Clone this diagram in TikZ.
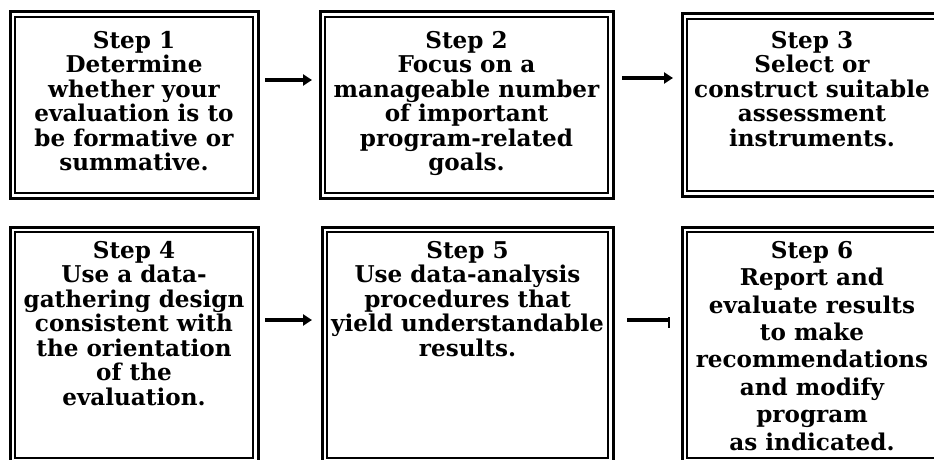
\documentclass[tikz,border=0pt]{standalone}
\usepackage{fontspec}
\setmainfont{DejaVu Serif}
\usetikzlibrary{arrows.meta,calc}

\tikzset{
  stepbox/.style={draw, line width=3pt, inner sep=0pt, outer sep=0pt,
    anchor=north west, minimum width=#1},
  innerframe/.style={line width=1.4pt},
  steptext/.style={anchor=north, align=center, inner sep=0pt,
    font=\fontsize{23.1}{24.5}\selectfont\bfseries},
  loosetext/.style={steptext, font=\fontsize{23.1}{27.4}\selectfont\bfseries},
  flowarrow/.style={line width=3.4pt, -{Triangle[length=9pt,width=11pt]}},
  flowline/.style={line width=3.4pt},
}

\begin{document}
\begin{tikzpicture}[x=1pt,y=-1pt]
  \useasboundingbox (0,0) rectangle (934,460);
  \clip (0,0) rectangle (934,460);

  % top row
  \node[stepbox=248pt, minimum height=186pt] (b1) at (10,12) {};
  \node[stepbox=293pt, minimum height=186pt] (b2) at (320,12) {};
  \node[stepbox=260pt, minimum height=182pt] (b3) at (682,14) {};
  % bottom row, running off the lower edge
  \node[stepbox=248pt, minimum height=236pt] (b4) at (10,227) {};
  \node[stepbox=291pt, minimum height=236pt] (b5) at (322,227) {};
  \node[stepbox=260pt, minimum height=236pt] (b6) at (682,227) {};

  % thin inner rule of each double frame
  \foreach \b in {b1,b2,b3,b4,b5,b6}
    \draw[innerframe] ([shift={(5pt,-5pt)}]\b.north west) rectangle ([shift={(-5pt,5pt)}]\b.south east);

  % box texts
  \node[steptext] (t1) at ([yshift=-19pt]b1.north) {Step 1\\Determine\\whether your\\evaluation is to\\be formative or\\summative.};
  \node[steptext] (t2) at ([yshift=-19pt]b2.north) {Step 2\\Focus on a\\manageable number\\of important\\program-related\\goals.};
  \node[steptext] (t3) at ([yshift=-17pt]b3.north) {Step 3\\Select or\\construct suitable\\assessment\\instruments.};
  \node[steptext] (t4) at ([yshift=-14pt]b4.north) {Step 4\\Use a data-\\gathering design\\consistent with\\the orientation\\of the\\evaluation.};
  \node[steptext] (t5) at ([yshift=-14pt]b5.north) {Step 5\\Use data-analysis\\procedures that\\yield understandable\\results.};
  \node[loosetext] (t6) at ([yshift=-14pt]b6.north) {Step 6\\Report and\\evaluate results\\to make\\recommendations\\and modify\\program\\as indicated.};

  % connectors
  \coordinate (a1) at ([yshift=-68pt]b1.north east);
  \coordinate (a2) at ([yshift=-66pt]b2.north east);
  \coordinate (a3) at ([yshift=-93pt]b4.north east);
  \coordinate (a4) at ([yshift=-93pt]b5.north east);
  \draw[flowarrow, shorten <=7pt, shorten >=8pt] (a1) -- (a1 -| b2.west);
  \draw[flowarrow, shorten <=9pt, shorten >=9pt] (a2) -- (a2 -| b3.west);
  \draw[flowarrow, shorten <=7pt, shorten >=10pt] (a3) -- (a3 -| b5.west);
  \coordinate (e4) at ($(a4 -| b6.west)+(-13pt,0)$);
  \draw[flowline, shorten <=14pt] (a4) -- (e4);
  \draw[line width=2.4pt] ($(e4)+(0,-3)$) -- ($(e4)+(0,8)$);
\end{tikzpicture}
\end{document}
